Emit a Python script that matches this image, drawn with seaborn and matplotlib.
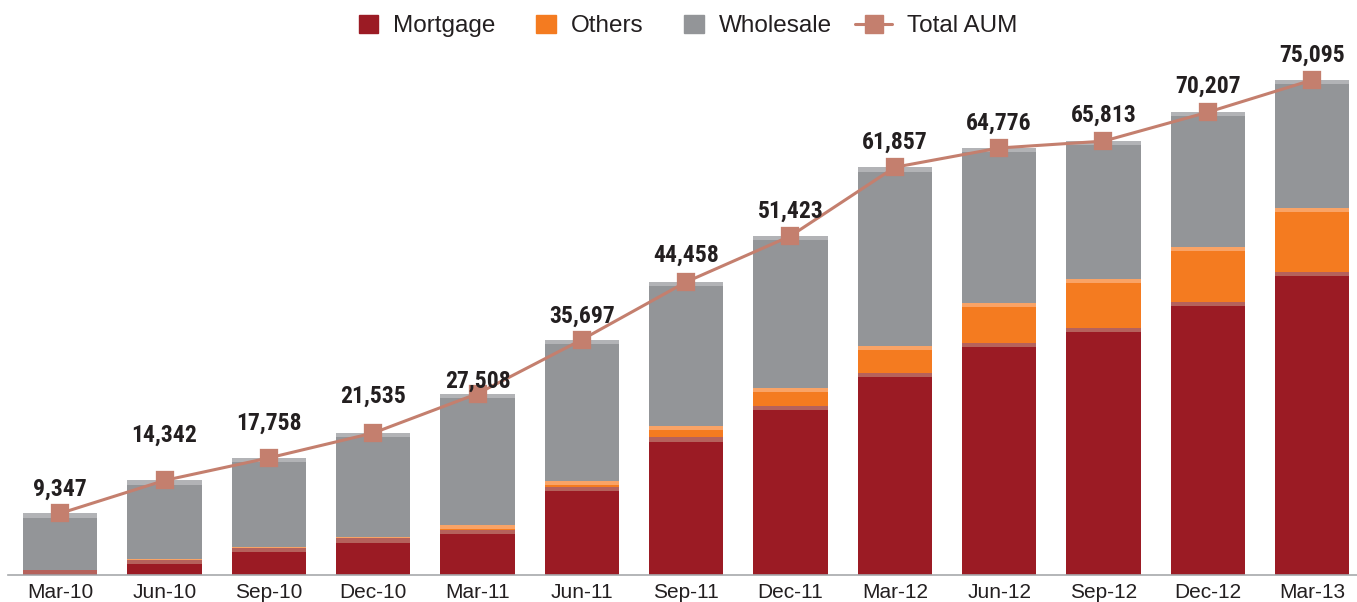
import numpy as np
import matplotlib
matplotlib.use("Agg")
import matplotlib.pyplot as plt
from matplotlib import font_manager
import seaborn as sns
from matplotlib.patches import Patch
from matplotlib.lines import Line2D
from matplotlib.legend_handler import HandlerLine2D

# data
quarters = ['Mar-10', 'Jun-10', 'Sep-10', 'Dec-10', 'Mar-11', 'Jun-11', 'Sep-11',
            'Dec-11', 'Mar-12', 'Jun-12', 'Sep-12', 'Dec-12', 'Mar-13']
total_aum = np.array([9347, 14342, 17758, 21535, 27508, 35697, 44458,
                      51423, 61857, 64776, 65813, 70207, 75095])
mortgage = np.array([750, 2300, 4060, 5540, 6840, 13390, 20870,
                     25640, 30620, 35190, 37520, 41390, 45970])
others = np.array([60, 150, 150, 200, 800, 900, 1800,
                   2700, 4100, 6070, 7400, 8340, 9710])
wholesale = total_aum - mortgage - others

# label nudges (pixels above the marker)
label_offsets = [24, 45, 35, 37, 12, 23, 27, 25, 25, 25, 26, 26, 25]

c_mort = '#9B1B24'
c_oth = '#F47B20'
c_whole = '#939598'
c_line = '#C47F6E'
c_text = '#231F20'
# lighter top rim of each segment (the bevel look)
rim = {c_mort: '#B5625C', c_oth: '#F9A366', c_whole: '#B2B3B6'}

sns.set_style('white')
plt.rcParams['font.family'] = ['Liberation Sans', 'DejaVu Sans']

# look for a condensed bold face for the value labels
names = {f.name for f in font_manager.fontManager.ttflist}
lab_font = None
for cand in ['Liberation Sans Narrow', 'Roboto Condensed', 'Open Sans Condensed', 'DejaVu Sans Condensed']:
    if cand in names:
        lab_font = cand
        break
if lab_font:
    lab_kw = dict(family=[lab_font, 'DejaVu Sans'], fontsize=17)
else:
    lab_kw = dict(family=['Liberation Sans', 'DejaVu Sans'], fontsize=15.5)


class LongLine(HandlerLine2D):
    # wider handle for the line entry only
    def get_xdata(self, legend, xdescent, ydescent, width, height, fontsize):
        xd = np.array([-xdescent - 0.9 * width, -xdescent + width])
        return xd, np.array([xd.mean()])


fig = plt.figure(figsize=(13.57, 6.02), dpi=100)
ax = fig.add_axes([0.0059, 0.0449, 0.9995, 0.9551])

bw = 0.71
layers = [(mortgage, np.zeros_like(mortgage), c_mort),
          (others, mortgage, c_oth),
          (wholesale, mortgage + others, c_whole)]
for vals, base, col in layers:
    sns.barplot(x=quarters, y=vals, bottom=base, color=col, width=bw, ax=ax,
                saturation=1, linewidth=0)
    strip = np.minimum(vals, 650)
    sns.barplot(x=quarters, y=strip, bottom=base + vals - strip, color=rim[col], width=bw,
                ax=ax, saturation=1, linewidth=0)

sns.pointplot(x=quarters, y=total_aum, color=c_line, markers='s', linestyles='-',
              markersize=11.5, linewidth=2.2, ax=ax)

for i, (v, off) in enumerate(zip(total_aum, label_offsets)):
    ax.annotate(f'{v:,}', (i, v), xytext=(0, off), textcoords='offset pixels',
                ha='center', va='center', fontweight='bold', color=c_text, **lab_kw)

ax.set_xlim(-0.5, 12.5)
ax.set_ylim(0, 87226)
ax.set_yticks([])
ax.set_xticks(np.arange(-0.5, 13, 1), minor=True)
ax.tick_params(axis='x', which='major', length=0, pad=5.5, labelsize=15, labelcolor=c_text)
ax.tick_params(axis='x', which='minor', length=8, width=1.2, color='#A7A9AC', direction='out')
for s in ['left', 'top', 'right']:
    ax.spines[s].set_visible(False)
ax.spines['bottom'].set_color('#A7A9AC')
ax.spines['bottom'].set_linewidth(1.2)
ax.set_xlabel('')
ax.set_ylabel('')

line_handle = Line2D([], [], color=c_line, lw=2.2, marker='s', markersize=13)
handles = [Patch(color=c_mort), Patch(color=c_oth), Patch(color=c_whole), line_handle]
fig.legend(handles, ['Mortgage', 'Others', 'Wholesale', 'Total AUM'],
           loc='upper center', bbox_to_anchor=(0.507, 1.012), ncol=4, frameon=False,
           fontsize=17.5, handlelength=0.8, handleheight=0.8, columnspacing=1.7,
           handletextpad=0.6, labelcolor=c_text,
           handler_map={line_handle: LongLine(numpoints=1)})

fig.savefig('out.png', dpi=100)
